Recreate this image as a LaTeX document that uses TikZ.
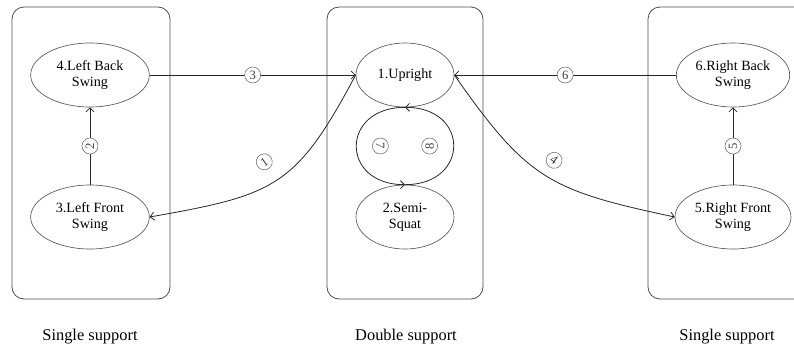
\documentclass[tikz,border=0pt]{standalone}
\usepackage{fontspec}
\setmainfont{Liberation Serif}
\usetikzlibrary{arrows.meta,shapes.geometric,positioning}

\begin{document}
\begin{tikzpicture}[
  x=0.75pt, y=0.75pt,
  node distance=58pt,
  group/.style={draw=black!70, rounded corners=9pt, line width=0.6pt,
                inner sep=0pt, minimum height=219pt},
  state/.style={ellipse, draw=black!65, line width=0.5pt, inner sep=0pt,
                minimum width=89pt, minimum height=48pt, align=center,
                font=\fontsize{10.6}{12}\selectfont},
  arr/.style={-{Straight Barb[length=3pt,width=6pt]}, line width=0.6pt, black!85},
  num/.style={circle, draw=black!60, text=black!75, line width=0.4pt,
              inner sep=0pt, minimum size=12pt, fill=white,
              font=\fontsize{9.5}{9.5}\selectfont},
  caption/.style={font=\fontsize{12.3}{14}\selectfont}
]
\clip (0,0) rectangle (794,-351);

% support phases
\node[group, minimum width=118.5pt] (lgroup) at (91,-153) {};
\node[group, minimum width=117pt]   (mgroup) at (405,-153) {};
\node[group, minimum width=121.5pt] (rgroup) at (729,-153) {};

% gait states
\node[state] (lback) at (90,-75) {4.Left Back\\Swing};
\node[state, below=of lback] (lfront) {3.Left Front\\Swing};
\node[state, minimum width=73.5pt] (upright) at (405,-75) {1.Upright};
\node[state, minimum width=73.5pt, below=of upright] (squat) {2.Semi-\\Squat};
\node[state, minimum width=85pt] (rback) at (733,-75) {6.Right Back\\Swing};
\node[state, minimum width=87pt, below=of rback] (rfront) {5.Right Front\\Swing};

% transitions
\draw[arr] (upright.west) to[out=-118, in=10, looseness=1.3]
  node[num, pos=0.5, shift={(-13,18)}, rotate=35] {1} (lfront.east);
\draw[arr] (lfront) -- node[num, rotate=90] {2} (lback);
\draw[arr] (lback) -- node[num] {3} (upright);
\draw[arr] (upright.east) to[out=-55, in=168, looseness=1.25]
  node[num, pos=0.5, shift={(9,15)}, rotate=-35] {4} (rfront.west);
\draw[arr] (rfront) -- node[num, rotate=90] {5} (rback);
\draw[arr] (rback) -- node[num] {6} (upright);
\draw[arr] (upright.south) to[out=180, in=180, looseness=2.15]
  node[num, pos=0.5, xshift=18pt, rotate=-90] {7} (squat.north);
\draw[arr] (squat.north) to[out=0, in=0, looseness=2.15]
  node[num, pos=0.5, xshift=-18pt, rotate=90] {8} (upright.south);

% phase captions
\node[caption] (lcap) at (90,-337) {Single support};
\node[caption] (mcap) at (406,-337) {Double support};
\node[caption] (rcap) at (727,-337) {Single support};
\end{tikzpicture}
\end{document}
